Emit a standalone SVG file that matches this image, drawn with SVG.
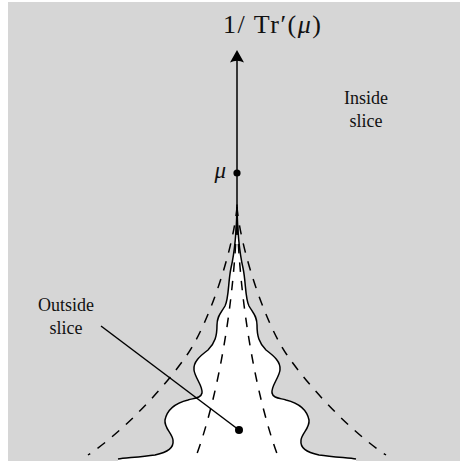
<svg xmlns="http://www.w3.org/2000/svg" width="460" height="461" viewBox="0 0 460 461">
<style>
.bg{fill:#d6d6d6}
.region{fill:#fff;stroke:none}
.outline{fill:none;stroke:#000;stroke-width:1.5;stroke-linejoin:round}
.dash{fill:none;stroke:#000;stroke-width:1.5;stroke-dasharray:9.5 9}
.solid{fill:none;stroke:#000;stroke-width:1.5}
text{font-family:'Liberation Serif','Times New Roman',Times,serif;fill:#111}
</style>
<rect class="bg" x="8" y="2" width="452" height="459"/>
<g id="outside-region">
<path class="region" d="M118,459 C125,458 140,457 155,455 C168,452 174,448 173,440 C172,433 164,428 165,420 C167,410 176,403 188,400 C195,398 201,398 202,393 C203,386 195,378 194,370 C193,362 200,356 208,350 C215,343 217,336 217,325 C217,316 221,313 225,306 C229,298 228,282 231,268 C234,255 236.5,240 237,205 C237.5,240 240,255 243,268 C246,282 245,298 249,306 C253,313 257,316 257,325 C257,336 259,343 266,350 C274,356 281,362 280,370 C279,378 271,386 272,393 C273,398 279,398 286,400 C298,403 307,410 309,420 C310,428 302,433 301,440 C300,448 306,452 319,455 C334,457 349,458 356,459 L356,463 L118,463 Z"/>
<path class="outline" d="M118,459 C125,458 140,457 155,455 C168,452 174,448 173,440 C172,433 164,428 165,420 C167,410 176,403 188,400 C195,398 201,398 202,393 C203,386 195,378 194,370 C193,362 200,356 208,350 C215,343 217,336 217,325 C217,316 221,313 225,306 C229,298 228,282 231,268 C234,255 236.5,240 237,205 C237.5,240 240,255 243,268 C246,282 245,298 249,306 C253,313 257,316 257,325 C257,336 259,343 266,350 C274,356 281,362 280,370 C279,378 271,386 272,393 C273,398 279,398 286,400 C298,403 307,410 309,420 C310,428 302,433 301,440 C300,448 306,452 319,455 C334,457 349,458 356,459"/>
</g>
<g id="connectors">
<path class="dash" d="M237,207 C233,252 208,325 187,355 C164,388 124,431 88,455"/>
<path class="dash" d="M237,207 C241,252 266,325 287,355 C310,388 350,431 386,455"/>
<path class="dash" d="M237,207 C236,290 220,393 195,459"/>
<path class="dash" d="M237,207 C238,290 254,393 279,459"/>
<line class="solid" x1="237" y1="218" x2="237" y2="58"/>
<path d="M237,50 L244,62.5 Q237,59 230,62.5 Z" fill="#000"/>
<line class="solid" x1="101" y1="326" x2="239" y2="430"/>
</g>
<g id="mu-point">
<circle cx="237" cy="173" r="3.6" fill="#000"/>
<text x="226" y="178" font-family="Liberation Serif, serif" font-size="23" font-style="italic" text-anchor="end">μ</text>
</g>
<g id="axis-label">
<text x="223" y="33" font-family="Liberation Serif, serif" font-size="26" letter-spacing="1.5">1/ Tr′(<tspan font-style="italic">μ</tspan>)</text>
</g>
<g id="inside-label">
<text x="366" y="104" font-family="Liberation Serif, serif" font-size="18" text-anchor="middle">Inside</text>
<text x="366" y="127" font-family="Liberation Serif, serif" font-size="18" text-anchor="middle">slice</text>
</g>
<g id="outside-label">
<text x="66" y="311" font-family="Liberation Serif, serif" font-size="18" text-anchor="middle">Outside</text>
<text x="66" y="334" font-family="Liberation Serif, serif" font-size="18" text-anchor="middle">slice</text>
</g>
<g id="outside-point">
<circle cx="239" cy="430" r="4" fill="#000"/>
</g>
</svg>
